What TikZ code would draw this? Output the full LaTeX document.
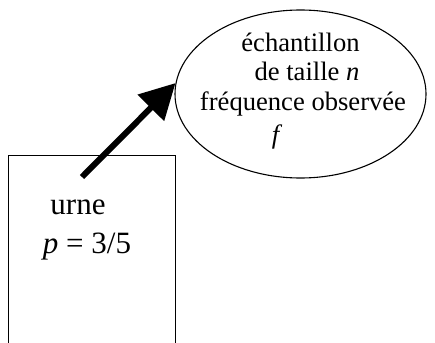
\documentclass[tikz,border=0pt]{standalone}
\usepackage{fontspec}
\setmainfont{Liberation Serif}
\usetikzlibrary{shapes,arrows.meta,positioning,calc}

\begin{document}
\begin{tikzpicture}[x=1pt, y=-1pt, >={Triangle[length=35pt, width=36pt]}]
    \tikzstyle{urnbox} = [rectangle, draw, line width=1.1pt, minimum width=167pt, minimum height=220pt, inner sep=0pt]
    \tikzstyle{urntext} = [align=center, inner sep=0pt, font=\fontsize{31}{39}\selectfont]
    \tikzstyle{bubble} = [ellipse, draw, line width=1.1pt, minimum width=251pt, minimum height=168pt, inner sep=0pt]
    \tikzstyle{bubbletext} = [align=center, inner sep=0pt, font=\fontsize{26.6}{29.5}\selectfont]
    \tikzstyle{line} = [draw, ->, line width=6pt]

    \useasboundingbox (0,0) rectangle (435,342);
    \clip (0,0) rectangle (435,342);

    \node [urnbox, anchor=north west] (urn) at (8,155) {};
    \node [urntext] (urnlabel) at (87,230) {urne\hspace*{18pt}\\\textit{p} = 3/5};

    \node [bubble] (sample) at (300.5,94) {};
    \node [bubbletext] (samplelabel) at (300.5,91) {échantillon\\\hspace*{13pt}de taille \textit{n}\\\hspace*{5pt}fréquence observée\\[4pt]\textit{f}\hspace*{47pt}};

    \coordinate (tail) at (82,177);
    \path [line] (tail) -- (sample.175.4);
\end{tikzpicture}
\end{document}
